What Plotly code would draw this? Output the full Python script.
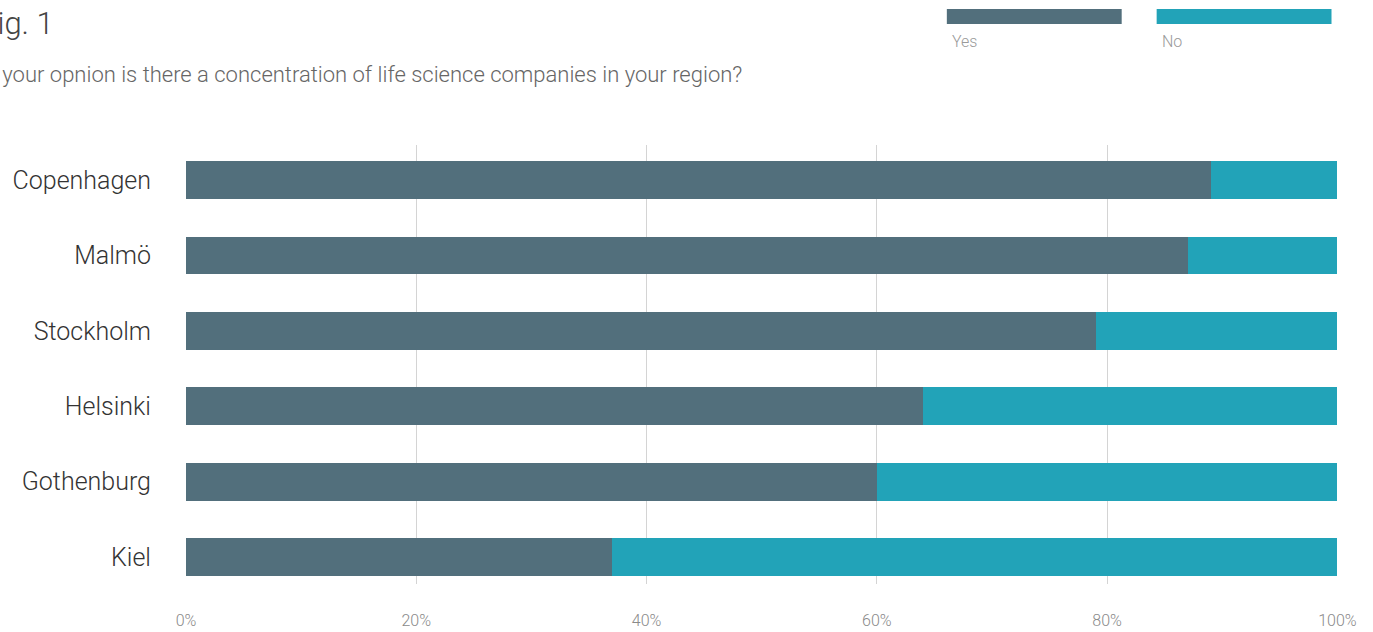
import plotly.graph_objects as go

# Survey answers per region (share of respondents, %)
regions = ["Copenhagen", "Malmö", "Stockholm", "Helsinki", "Gothenburg", "Kiel"]
yes_share = [89, 87, 79, 64, 60, 37]
no_share = [11, 13, 21, 36, 40, 63]
x_ticks = [0, 20, 40, 60, 80, 100]
x_tick_labels = ["0%", "20%", "40%", "60%", "80%", "100%"]

YES_COLOR = "#526f7c"
NO_COLOR = "#22a3b8"
FONT = "Roboto"

W, H = 1373, 632
ML, MR, MT, MB = 185.5, 34.5, 145, 48


def px_x(px):
    """Pixel column -> paper x."""
    return (px - ML) / (W - ML - MR)


def px_y(py):
    """Pixel row -> paper y."""
    return 1 - (py - MT) / (H - MT - MB)


fig = go.Figure()
fig.add_trace(go.Bar(
    y=regions, x=yes_share, name="Yes", orientation="h",
    marker=dict(color=YES_COLOR, line=dict(width=0)), width=0.5,
    hoverinfo="x+y",
))
fig.add_trace(go.Bar(
    y=regions, x=no_share, name="No", orientation="h",
    marker=dict(color=NO_COLOR, line=dict(width=0)), width=0.5,
    hoverinfo="x+y",
))

# Custom legend: long swatches with captions below
legend_items = [("Yes", YES_COLOR, 947), ("No", NO_COLOR, 1157)]
for label, color, left in legend_items:
    fig.add_shape(
        type="rect", xref="paper", yref="paper",
        x0=px_x(left), x1=px_x(left + 175), y0=px_y(24), y1=px_y(9),
        fillcolor=color, line=dict(width=0),
    )
    fig.add_annotation(
        xref="paper", yref="paper", x=px_x(left + 3), y=px_y(41),
        text=label, showarrow=False, xanchor="left", yanchor="middle",
        font=dict(family=FONT, size=16, color="#9a9a9a", weight=300),
    )

# Heading and question
fig.add_annotation(
    xref="paper", yref="paper", x=px_x(-23), y=px_y(23),
    text="Fig. 1", showarrow=False, xanchor="left", yanchor="middle",
    font=dict(family=FONT, size=31, color="#444444", weight=300),
)
fig.add_annotation(
    xref="paper", yref="paper", x=px_x(-24), y=px_y(74),
    text="In your opnion is there a concentration of life science companies in your region?",
    showarrow=False, xanchor="left", yanchor="middle",
    font=dict(family=FONT, size=22, color="#666666", weight=300),
)

fig.update_layout(
    width=W, height=H,
    margin=dict(l=ML, r=MR, t=MT, b=MB, pad=0, autoexpand=False),
    barmode="stack",
    showlegend=False,
    plot_bgcolor="white", paper_bgcolor="white",
    font=dict(family=FONT),
)
fig.update_xaxes(
    range=[0, 100.05], tickvals=x_ticks, ticktext=x_tick_labels,
    showgrid=True, gridcolor="#d4d4d4", gridwidth=1,
    zeroline=False, showline=False, automargin=False,
    ticks="outside", ticklen=22, tickcolor="rgba(0,0,0,0)",
    tickfont=dict(family=FONT, size=16, color="#8a8a8a", weight=300),
    fixedrange=True,
)
fig.update_yaxes(
    categoryorder="array", categoryarray=regions,
    range=[5.358, -0.467],
    showgrid=False, zeroline=False, showline=False, automargin=False,
    ticks="outside", ticklen=29, tickcolor="rgba(0,0,0,0)",
    tickfont=dict(family=FONT, size=25, color="#333333", weight=300),
    fixedrange=True,
)

fig.write_html("out.html")
